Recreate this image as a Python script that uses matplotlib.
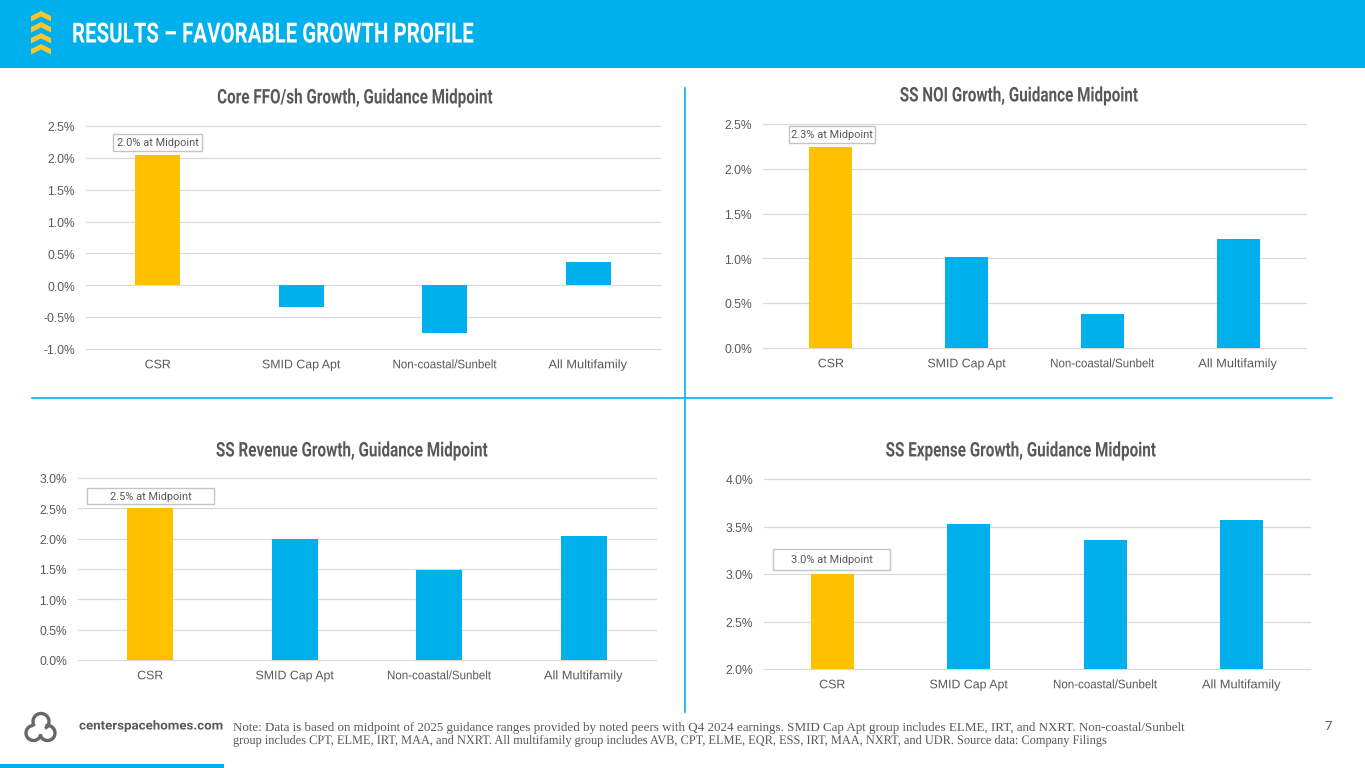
import matplotlib
matplotlib.use("Agg")
import matplotlib.pyplot as plt
from matplotlib.patches import Rectangle, Polygon, Arc
from matplotlib.patheffects import AbstractPathEffect
from matplotlib.transforms import Affine2D, ScaledTranslation

W, H = 1365, 768
BLUE = "#00B0EC"
GOLD = "#FFC000"
GRID = "#D9D9D9"
TXT = "#595959"


class Squeeze(AbstractPathEffect):
    """Scales a text's glyphs horizontally (no condensed family is installed)."""

    def __init__(self, sx, anchor="center"):
        super().__init__()
        self.sx, self.anchor = sx, anchor

    def draw_path(self, renderer, gc, tpath, affine, rgbFace=None):
        xs = affine.transform(tpath.vertices)[:, 0]
        x0 = xs.min() if self.anchor == "left" else (xs.min() + xs.max()) / 2
        t = affine + Affine2D().translate(-x0, 0).scale(self.sx, 1).translate(x0, 0)
        renderer.draw_path(gc, tpath, t, rgbFace)


categories = ["CSR", "SMID Cap Apt", "Non-coastal/Sunbelt", "All Multifamily"]
label_squeeze = [1.0, 1.0, 0.935, 1.04]

titles = ["Core FFO/sh Growth, Guidance Midpoint", "SS NOI Growth, Guidance Midpoint",
          "SS Revenue Growth, Guidance Midpoint", "SS Expense Growth, Guidance Midpoint"]
core_ffo = [2.05, -0.34, -0.75, 0.37]
ss_noi = [2.24, 1.02, 0.38, 1.22]
ss_revenue = [2.5, 2.0, 1.48, 2.04]
ss_expense = [3.0, 3.53, 3.36, 3.57]
notes = ["2.0% at Midpoint", "2.3% at Midpoint", "2.5% at Midpoint", "3.0% at Midpoint"]
yranges = [(-1.0, 2.5), (0.0, 2.5), (0.0, 3.0), (2.0, 4.0)]
series = [core_ffo, ss_noi, ss_revenue, ss_expense]

# pixel layout: left, right, top, bottom, title centre, title y, note box (x0, x1, y0, y1)
layout = [
    (86, 660, 126, 349, 355, 98, (113, 202, 134, 151)),
    (763, 1306, 124, 348, 1019, 96, (789, 875, 126, 143)),
    (78, 656, 478, 660, 352, 451, (87, 214, 488, 504)),
    (764, 1310, 479, 669, 1021, 451, (773, 890, 549, 570)),
]

fig = plt.figure(figsize=(W / 100, H / 100), dpi=100, facecolor="white")
bg = fig.add_axes([0, 0, 1, 1])
bg.set_xlim(0, W)
bg.set_ylim(H, 0)
bg.axis("off")

# header and dividers
bg.add_patch(Rectangle((0, 0), W, 67.5, color=BLUE, lw=0))
bg.add_patch(Rectangle((0, 763.5), 224, 4.5, color=BLUE, lw=0))
bg.plot([685, 685], [88, 712], color=BLUE, lw=1.2)
bg.plot([32, 1332], [398, 398], color=BLUE, lw=1.2)
for y in (11, 22, 33, 44):
    bg.add_patch(Polygon([(31, y + 5), (41, y), (51, y + 5), (51, y + 10.5), (41, y + 5.5), (31, y + 10.5)],
                         closed=True, color="#F7C52D", lw=0))
bg.text(72, 35, "RESULTS – FAVORABLE GROWTH PROFILE", color="white", fontsize=20,
        family="Roboto", fontweight="bold", va="center", ha="left",
        path_effects=[Squeeze(0.737, "left")])

# footer
LOGO = "#666666"
bg.add_patch(Arc((41, 721.5), 16, 16, theta1=-215, theta2=60, ec=LOGO, lw=2.4))
bg.add_patch(Arc((33.5, 733), 15, 15, theta1=-350, theta2=-95, ec=LOGO, lw=2.4))
bg.add_patch(Arc((47.5, 733), 15, 15, theta1=-105, theta2=170, ec=LOGO, lw=2.4))
bg.text(79, 726, "centerspacehomes.com", color=TXT, fontsize=9, fontweight="bold", family="Roboto",
        va="center", ha="left", path_effects=[Squeeze(1.065, "left")])
bg.text(233, 728, "Note: Data is based on midpoint of 2025 guidance ranges provided by noted peers with Q4 2024 earnings. "
        "SMID Cap Apt group includes ELME, IRT, and NXRT. Non-coastal/Sunbelt",
        color=TXT, fontsize=9.4, family="Liberation Serif", va="center", ha="left")
bg.text(233, 741, "group includes CPT, ELME, IRT, MAA, and NXRT. All multifamily group includes AVB, CPT, ELME, EQR, ESS, "
        "IRT, MAA, NXRT, and UDR. Source data: Company Filings",
        color=TXT, fontsize=9.4, family="Liberation Serif", va="center", ha="left",
        path_effects=[Squeeze(0.945, "left")])
bg.text(1332, 727, "7", color=TXT, fontsize=9.5, family="Roboto", va="center", ha="right")

for vals, title, note, yr, (l, r, t, b, tc, ty, box) in zip(series, titles, notes, yranges, layout):
    ax = fig.add_axes([l / W, 1 - b / H, (r - l) / W, (b - t) / H])
    ax.set_facecolor("none")
    cols = [GOLD] + [BLUE] * (len(vals) - 1)
    ax.bar(categories, vals, width=0.315, color=cols, zorder=3)
    ax.set_xlim(-0.5, 3.5)
    ax.set_ylim(*yr)
    ticks = [yr[0] + 0.5 * i for i in range(int(round((yr[1] - yr[0]) / 0.5)) + 1)]
    ax.set_yticks(ticks)
    ax.set_yticklabels([f"{v:.1f}%" for v in ticks])
    ax.grid(axis="y", color=GRID, lw=0.9, zorder=0)
    for gl in ax.get_ygridlines():
        gl.set_clip_on(False)
    ax.tick_params(axis="y", length=0, labelsize=8.7, labelcolor=TXT, pad=8)
    ax.tick_params(axis="x", length=0, labelsize=8.9, labelcolor=TXT, pad=7.4)
    for lab in ax.get_xticklabels() + ax.get_yticklabels():
        lab.set_family("Liberation Sans")
    for lab in ax.get_yticklabels():
        lab.set_verticalalignment("center_baseline")
        lab.set_transform(lab.get_transform() + ScaledTranslation(0, -0.008, fig.dpi_scale_trans))
    for lab, sx in zip(ax.get_xticklabels(), label_squeeze):
        lab.set_path_effects([Squeeze(sx)])
    for s in ax.spines.values():
        s.set_visible(False)
    bg.text(tc, ty, title, color=TXT, fontsize=14.5, family="Roboto", fontweight="bold",
            ha="center", va="center", path_effects=[Squeeze(0.757)])
    ax.add_patch(Rectangle((box[0], box[2]), box[1] - box[0], box[3] - box[2], transform=bg.transData,
                           fc="white", ec="#C4C4C4", lw=1, zorder=5, clip_on=False))
    ax.text((box[0] + box[1]) / 2, (box[2] + box[3]) / 2 + 0.5, note, transform=bg.transData, fontsize=7.9,
            color=TXT, family="Roboto", ha="center", va="center", zorder=6)

fig.savefig("out.png", dpi=100)
